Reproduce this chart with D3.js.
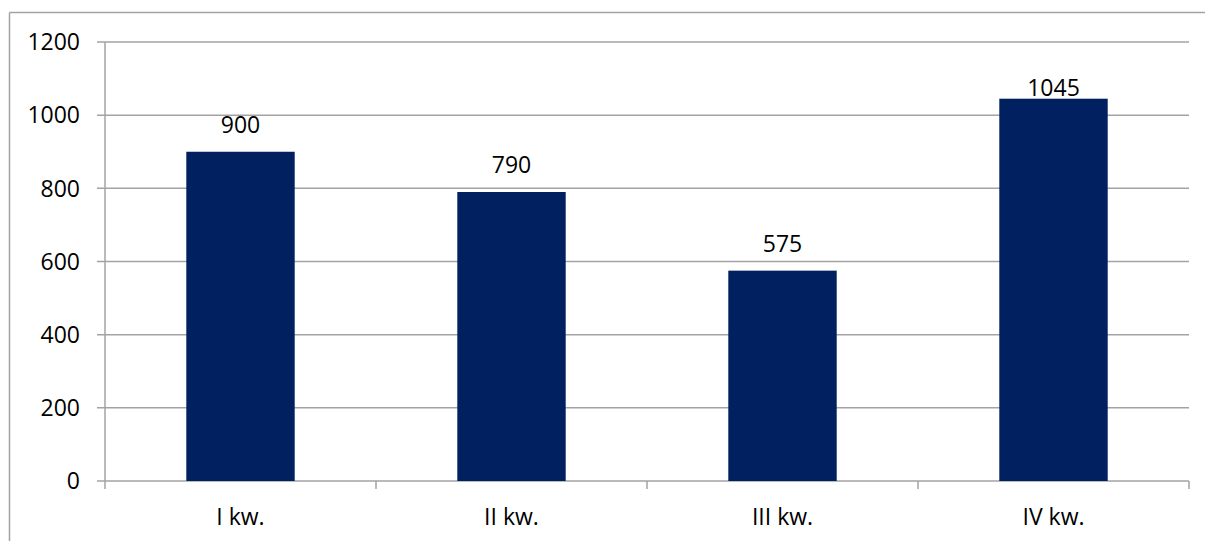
<!DOCTYPE html>
<html>
<head>
<meta charset="utf-8">
<script src="https://cdn.jsdelivr.net/npm/d3@7"></script>
<style>
  html, body { margin: 0; padding: 0; background: #fff; overflow: hidden; }
  svg { display: block; }
  text { font-family: "Open Sans", "Noto Sans", sans-serif; fill: #000; }
</style>
</head>
<body>
<svg id="chart" width="1205" height="541"></svg>
<script>
// Quarterly totals
const quarters = ["I kw.", "II kw.", "III kw.", "IV kw."];
const totals = [900, 790, 575, 1045];
const yTicks = [0, 200, 400, 600, 800, 1000, 1200];

const W = 1205, H = 541;
const plot = { left: 105, right: 1189, top: 42, bottom: 481 };
const lineColor = "#a3a3a3";
const barColor = "#002060";
const fontSize = 23;

const svg = d3.select("#chart");

// chart-area frame (top and left edges fall inside the view)
svg.append("line")
  .attr("x1", 9.5).attr("x2", W)
  .attr("y1", 12.5).attr("y2", 12.5)
  .attr("stroke", lineColor).attr("stroke-width", 1.5);
svg.append("line")
  .attr("x1", 9.5).attr("x2", 9.5)
  .attr("y1", 12.5).attr("y2", H)
  .attr("stroke", lineColor).attr("stroke-width", 1.5);

const x = d3.scaleBand()
  .domain(quarters)
  .range([plot.left, plot.right])
  .paddingInner(0.6)
  .paddingOuter(0.3);

const y = d3.scaleLinear()
  .domain([0, 1200])
  .range([plot.bottom, plot.top]);

// horizontal gridlines
svg.append("g")
  .selectAll("line")
  .data(yTicks)
  .join("line")
  .attr("x1", plot.left - 8).attr("x2", plot.right)
  .attr("y1", d => y(d)).attr("y2", d => y(d))
  .attr("stroke", lineColor).attr("stroke-width", 1.5);

// value axis line
svg.append("line")
  .attr("x1", plot.left).attr("x2", plot.left)
  .attr("y1", plot.top).attr("y2", plot.bottom + 8)
  .attr("stroke", lineColor).attr("stroke-width", 1.5);

// value axis labels
svg.append("g")
  .selectAll("text")
  .data(yTicks)
  .join("text")
  .attr("x", plot.left - 25)
  .attr("y", d => y(d))
  .attr("dy", "0.36em")
  .attr("text-anchor", "end")
  .attr("font-size", fontSize)
  .text(d => d);

// category boundary ticks
const step = x.step();
const boundaries = d3.range(quarters.length + 1).map(i => plot.left + i * step);
svg.append("g")
  .selectAll("line")
  .data(boundaries.slice(1))
  .join("line")
  .attr("x1", d => d).attr("x2", d => d)
  .attr("y1", plot.bottom).attr("y2", plot.bottom + 8)
  .attr("stroke", lineColor).attr("stroke-width", 1.5);

// bars
svg.append("g")
  .selectAll("rect")
  .data(quarters.map((q, i) => ({ q, v: totals[i] })))
  .join("rect")
  .attr("x", d => x(d.q))
  .attr("y", d => y(d.v))
  .attr("width", x.bandwidth())
  .attr("height", d => y(0) - y(d.v))
  .attr("fill", barColor);

// value labels above bars (the tallest one sits snug on its bar)
svg.append("g")
  .selectAll("text")
  .data(quarters.map((q, i) => ({ q, v: totals[i] })))
  .join("text")
  .attr("x", d => x(d.q) + x.bandwidth() / 2)
  .attr("y", d => y(d.v) - (d.v > 1000 ? 3 : 19))
  .attr("text-anchor", "middle")
  .attr("font-size", fontSize)
  .text(d => d.v);

// category labels
svg.append("g")
  .selectAll("text")
  .data(quarters)
  .join("text")
  .attr("x", d => x(d) + x.bandwidth() / 2)
  .attr("y", 525)
  .attr("text-anchor", "middle")
  .attr("font-size", fontSize)
  .text(d => d);
</script>
</body>
</html>
